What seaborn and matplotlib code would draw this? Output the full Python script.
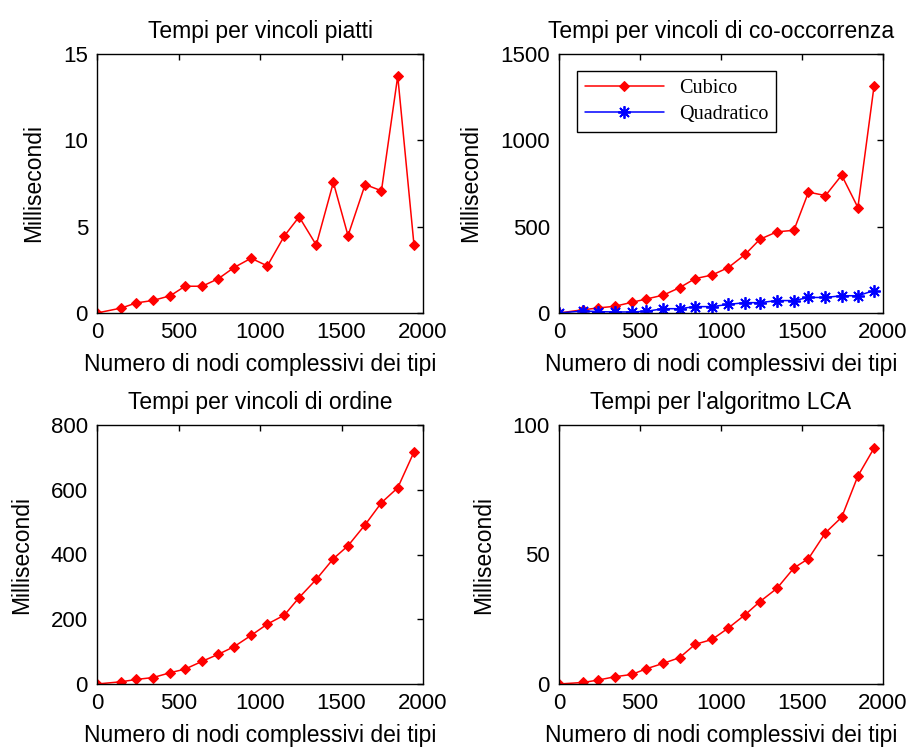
import matplotlib
matplotlib.use("Agg")
import matplotlib.pyplot as plt
import seaborn as sns
import pandas as pd

nodi = [0, 150, 240, 345, 450, 540, 645, 745, 840, 945, 1045, 1150, 1240, 1345, 1450, 1540, 1645, 1745, 1845, 1945]

piatti = [0, 0.29, 0.58, 0.73, 1.0, 1.55, 1.55, 1.99, 2.63, 3.17, 2.73, 4.47, 5.57, 3.94, 7.56, 4.48, 7.44, 7.08, 13.72, 3.92]

cooc_cubico = [0, 19, 29, 39, 62, 81, 104, 147, 199, 220, 263, 340, 427, 470, 479, 700, 680, 798, 611, 1316]
cooc_quadratico = [0, 12, 8, 6, 6, 10, 25, 25, 37, 37, 50, 60, 60, 72, 72, 90, 90, 100, 100, 130]

ordine = [0, 7, 14, 20, 35, 46, 70, 92, 115, 150, 185, 213, 267, 323, 387, 427, 492, 560, 606, 717]

lca = [0, 0.6, 1.5, 2.8, 3.7, 5.9, 8.0, 10.2, 15.3, 17.2, 21.6, 26.8, 31.8, 36.9, 44.8, 48.4, 58.4, 64.4, 80.3, 91.1]

titoli = ["Tempi per vincoli piatti", "Tempi per vincoli di co-occorrenza",
          "Tempi per vincoli di ordine", "Tempi per l'algoritmo LCA"]
xlabel = "Numero di nodi complessivi dei tipi"
ylabel = "Millisecondi"

sns.set_style("white")
plt.rcParams['font.family'] = ['Liberation Sans', 'DejaVu Sans']
plt.rcParams['text.color'] = 'black'
plt.rcParams['axes.labelcolor'] = 'black'
plt.rcParams['xtick.color'] = 'black'
plt.rcParams['ytick.color'] = 'black'

fig = plt.figure(figsize=(9.09, 7.49), dpi=100)
W, H = 909, 749

def mk(left, top, right, bottom):
    return fig.add_axes([left / W, 1 - bottom / H, (right - left) / W, (bottom - top) / H])

axes = [mk(97, 54, 423, 313), mk(559, 54, 883, 313),
        mk(97, 425, 423, 684), mk(559, 425, 883, 684)]

ylims = [(0, 15), (0, 1500), (0, 800), (0, 100)]
yticks = [[0, 5, 10, 15], [0, 500, 1000, 1500], [0, 200, 400, 600, 800], [0, 50, 100]]
series = [piatti, None, ordine, lca]

red_kw = dict(color="#ff0000", marker="D", markersize=5.5, markeredgecolor="#ff0000",
              markerfacecolor="#ff0000", linewidth=1.1)
blue_kw = dict(color="#0000ff", marker=(8, 2, 0), markersize=9, markeredgecolor="#0000ff",
               markeredgewidth=1.3, linewidth=1.1)

for i, ax in enumerate(axes):
    if i == 1:
        df = pd.DataFrame({"x": nodi, "c": cooc_cubico, "q": cooc_quadratico})
        sns.lineplot(data=df, x="x", y="c", ax=ax, label="Cubico", **red_kw)
        sns.lineplot(data=df, x="x", y="q", ax=ax, label="Quadratico", **blue_kw)
        leg = ax.legend(loc="upper left", bbox_to_anchor=(0.0555, 0.934), borderaxespad=0,
                        prop={"family": "Liberation Serif", "size": 14.5},
                        fancybox=False, framealpha=1, edgecolor="black",
                        handlelength=3.9, handletextpad=0.75, borderpad=0.4,
                        labelspacing=0.35)
        leg.get_frame().set_linewidth(1.0)
        for t in leg.get_texts():
            t.set_color("black")
    else:
        df = pd.DataFrame({"x": nodi, "y": series[i]})
        sns.lineplot(data=df, x="x", y="y", ax=ax, **red_kw)
    ax.set_xlim(0, 2000)
    ax.set_ylim(*ylims[i])
    ax.set_xticks([0, 500, 1000, 1500, 2000])
    ax.set_yticks(yticks[i])
    ax.tick_params(direction="in", length=4, width=1, top=True, right=True,
                   labelsize=16, pad=6.5, colors="black")
    for s in ax.spines.values():
        s.set_color("black")
        s.set_linewidth(1.0)
    ax.set_title(titoli[i], fontsize=16.5, pad=11.5, color="black")
    ax.set_xlabel(xlabel, fontsize=16.5, labelpad=7, color="black")
    ax.set_ylabel(ylabel, fontsize=16.5, labelpad=13, color="black")
    ax.grid(False)

fig.savefig("out.png", dpi=100)
